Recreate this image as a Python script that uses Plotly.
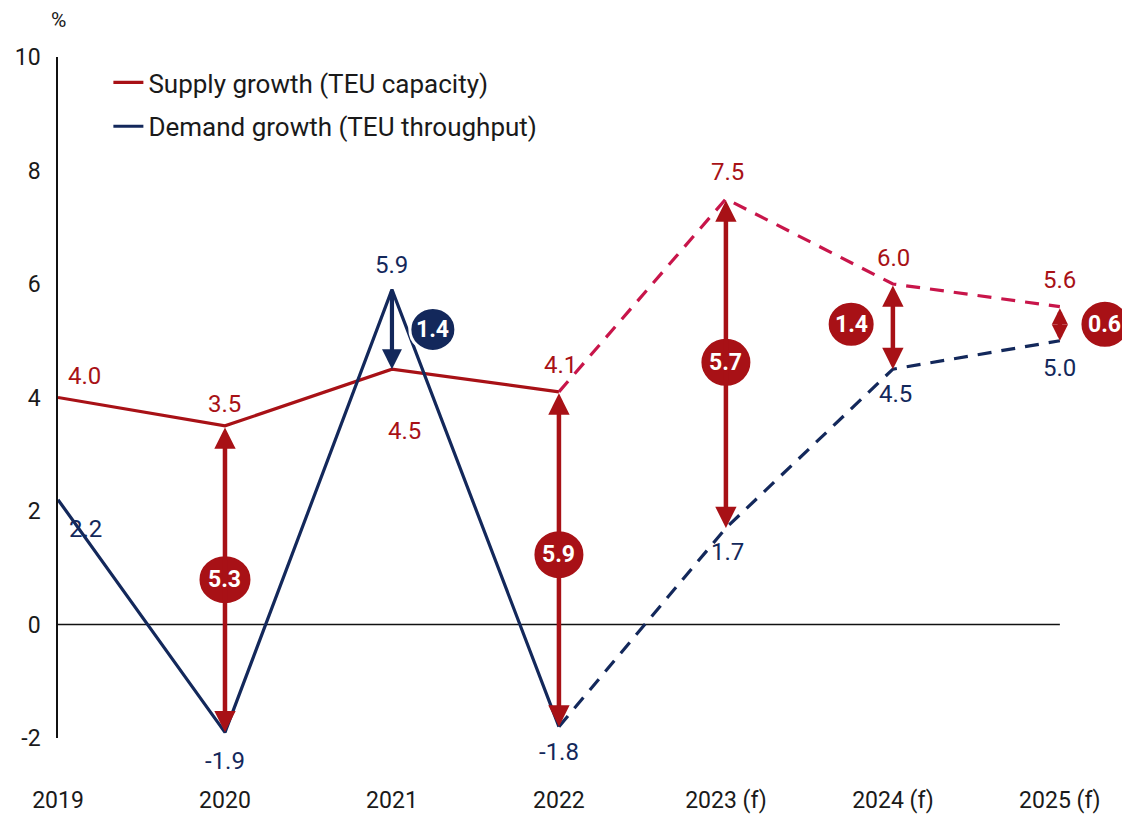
import plotly.graph_objects as go

# ---------------- data ----------------
years = ["2019", "2020", "2021", "2022", "2023 (f)", "2024 (f)", "2025 (f)"]
supply = [4.0, 3.5, 4.5, 4.1, 7.5, 6.0, 5.6]
demand = [2.2, -1.9, 5.9, -1.8, 1.7, 4.5, 5.0]
actual_last = 3  # index of last actual year (2022); forecasts follow
gap_labels = ["5.3", "1.4", "5.9", "5.7", "1.4", "0.6"]
y_ticks = [-2, 0, 2, 4, 6, 8, 10]

# ---------------- styling / positions ----------------
RED = "#A81116"
RED_F = "#C8154A"
NAVY = "#13285B"
TXT = "#1a1a1a"
FONT = "Roboto"

xi = list(range(len(years)))

# label offsets (pixels) for value labels
sup_dx = [26, 0, 13, 2, 2, 1, 0]
sup_dy = [22, 22, -62, 27, 27, 26, 27]
dem_dx = [27, 0, 0, 0, 2, 3, 0]
dem_dy = [-29, -29, 25, -25, -24, -25, -27]

# gap arrows: (x index, top value, bottom value, double-headed, colour)
gap_arrows = [
    (1, supply[1], demand[1], True, RED),
    (2, demand[2], supply[2], False, NAVY),
    (3, supply[3], demand[3], True, RED),
    (4, supply[4], demand[4], True, RED),
    (5, supply[5], demand[5], True, RED),
    (6, supply[6], demand[6], True, RED),
]
arrow_sizes = [0.95, 0.95, 0.95, 0.95, 0.95, 0.72]
# gap bubble centres (x in category units, y in data units), colour, size px
gap_pos = [(1.0, 0.79, RED, 54, 50), (2.245, 5.2, NAVY, 46, 44), (3.0, 1.23, RED, 52, 50),
           (4.0, 4.62, RED, 52, 50), (4.75, 5.29, RED, 48, 46), (6.27, 5.29, RED, 50, 48)]

fig = go.Figure()

# actual lines
fig.add_trace(go.Scatter(x=xi[:actual_last + 1], y=supply[:actual_last + 1], mode="lines",
                         line=dict(color=RED, width=3.2), name="Supply growth (TEU capacity)",
                         legendgroup="s", hoverinfo="skip"))
fig.add_trace(go.Scatter(x=xi[:actual_last + 1], y=demand[:actual_last + 1], mode="lines",
                         line=dict(color=NAVY, width=3.2), name="Demand growth (TEU throughput)",
                         legendgroup="d", hoverinfo="skip"))
# forecast lines
fig.add_trace(go.Scatter(x=xi[actual_last:], y=supply[actual_last:], mode="lines",
                         line=dict(color=RED_F, width=3.2, dash="14px,10px"), showlegend=False,
                         legendgroup="s", hoverinfo="skip"))
fig.add_trace(go.Scatter(x=xi[actual_last:], y=demand[actual_last:], mode="lines",
                         line=dict(color=NAVY, width=3.2, dash="14px,10px"), showlegend=False,
                         legendgroup="d", hoverinfo="skip"))

annotations = []
shapes = []

# zero line
shapes.append(dict(type="line", xref="x", yref="y", x0=xi[0], x1=xi[-1], y0=0, y1=0,
                   line=dict(color="#111111", width=1.3), layer="below"))

# arrows
for (x, top, bot, double, col), AS in zip(gap_arrows, arrow_sizes):
    if double:
        annotations.append(dict(x=x, y=bot, ax=x, ay=top, xref="x", yref="y", axref="x", ayref="y",
                                showarrow=True, text="", arrowhead=2, arrowsize=AS, arrowwidth=4.5,
                                arrowcolor=col, arrowside="end+start", startarrowhead=2,
                                startarrowsize=AS, standoff=0, startstandoff=0))
    else:
        annotations.append(dict(x=x, y=bot, ax=x, ay=top, xref="x", yref="y", axref="x", ayref="y",
                                showarrow=True, text="", arrowhead=2, arrowsize=AS, arrowwidth=4.2,
                                arrowcolor=col, standoff=0))

# value labels
for i, v in enumerate(supply):
    annotations.append(dict(x=i, y=v, xref="x", yref="y", text=f"{v:.1f}", showarrow=False,
                            xshift=sup_dx[i], yshift=sup_dy[i],
                            font=dict(family=FONT, size=24, color=RED)))
for i, v in enumerate(demand):
    annotations.append(dict(x=i, y=v, xref="x", yref="y", text=f"{v:.1f}", showarrow=False,
                            xshift=dem_dx[i], yshift=dem_dy[i],
                            font=dict(family=FONT, size=24, color=NAVY)))

# gap bubbles
for lab, (gx, gy, col, w, h) in zip(gap_labels, gap_pos):
    shapes.append(dict(type="circle", xref="x", yref="y", xsizemode="pixel", ysizemode="pixel",
                       xanchor=gx, yanchor=gy, x0=-w / 2, x1=w / 2, y0=-h / 2, y1=h / 2,
                       fillcolor=col, line=dict(color="white", width=3), layer="above"))
    annotations.append(dict(x=gx, y=gy, xref="x", yref="y", text=f"<b>{lab}</b>", showarrow=False,
                            font=dict(family=FONT, size=23, color="white")))

# % unit
annotations.append(dict(x=0, y=1, xref="paper", yref="paper", text="%", showarrow=False,
                        xanchor="center", yanchor="middle", yshift=37,
                        font=dict(family=FONT, size=21, color=TXT)))

# the page body has an 8px default margin: the figure is sized so the drawing fills the window
fig.update_layout(
    width=1122, height=810,
    margin=dict(l=50, r=0, t=49, b=80),
    paper_bgcolor="white", plot_bgcolor="white",
    font=dict(family=FONT, size=23, color=TXT),
    shapes=shapes, annotations=annotations,
    showlegend=True,
    legend=dict(x=0.047, y=0.997, xanchor="left", yanchor="top", bgcolor="rgba(0,0,0,0)",
                font=dict(family=FONT, size=26, color=TXT), tracegroupgap=7,
                itemwidth=30),
    xaxis=dict(range=[0, 6.42], tickvals=xi, ticktext=years, showgrid=False, zeroline=False,
               showline=False, ticks="", ticklabelstandoff=46,
               tickfont=dict(family=FONT, size=23, color=TXT), fixedrange=True),
    yaxis=dict(range=[-2, 10], tickvals=y_ticks, ticktext=[str(t) for t in y_ticks],
               showgrid=False, zeroline=False,
               showline=True, linecolor="#111111", linewidth=1.5, ticks="",
               ticklabelstandoff=11, tickfont=dict(family=FONT, size=23, color=TXT),
               fixedrange=True),
)

fig.write_html("out.html")
